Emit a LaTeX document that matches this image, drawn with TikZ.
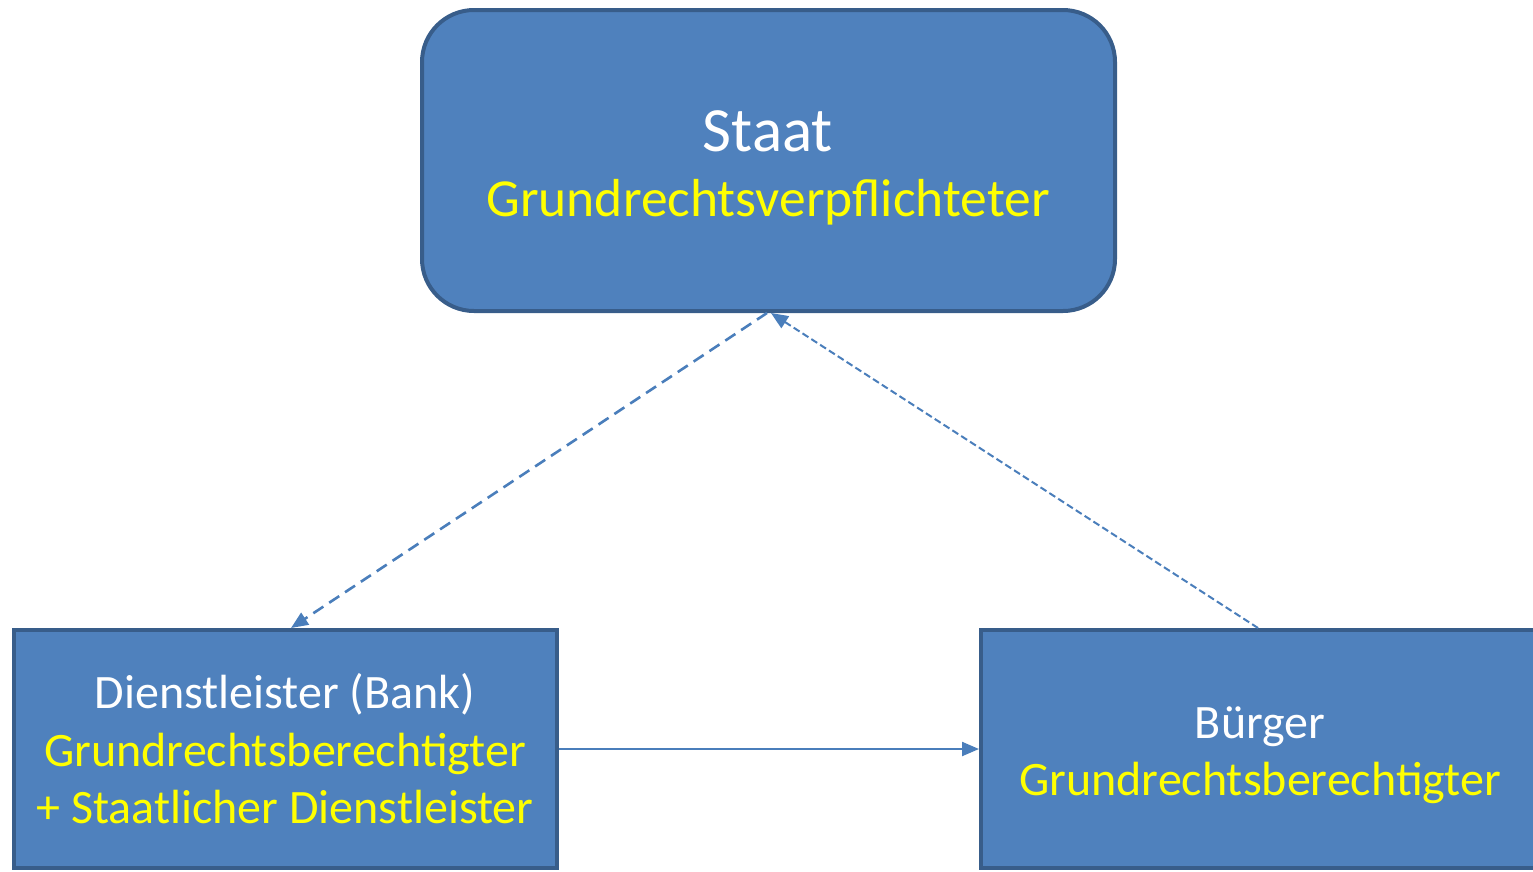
\documentclass[tikz,border=0pt]{standalone}
\usepackage{fontspec}
\setmainfont{Carlito}
\usetikzlibrary{arrows.meta}
\definecolor{boxfill}{HTML}{4F81BD}
\definecolor{boxline}{HTML}{385D8A}
\definecolor{conn}{HTML}{4A7EBB}
\definecolor{txtyellow}{HTML}{FFFF00}
\tikzset{
  box/.style={draw=boxline, fill=boxfill, line width=4pt, inner sep=0pt},
  wtxt/.style={text=white, anchor=base, inner sep=0pt},
  ytxt/.style={text=txtyellow, anchor=base, inner sep=0pt},
  tip/.style={-{Triangle[length=17pt,width=14pt]}},
  dashA/.style={conn, line width=2.6pt, dash pattern=on 12pt off 7pt},
  dashB/.style={conn, line width=2pt, dash pattern=on 7pt off 3.5pt},
  solidc/.style={conn, line width=2.2pt}
}
\begin{document}
\begin{tikzpicture}[x=1pt,y=-1pt]
\useasboundingbox (0,0) rectangle (1533,871);
\clip (0,0) rectangle (1533,871);
\node[box, rounded corners=52pt, minimum width=693pt, minimum height=301pt] (staat) at (768.5,160.5) {};
\node[box, minimum width=543pt, minimum height=238pt] (dl) at (285.5,749) {};
\node[box, minimum width=564pt, minimum height=238pt] (bg) at (1263,749) {};
\node[wtxt, font=\fontsize{63}{76}\selectfont] (t1) at (768,151) {Staat};
\node[ytxt, font=\fontsize{53.5}{64}\selectfont] (t2) at (768,216) {Grundrechtsverpflichteter};
\node[wtxt, font=\fontsize{48}{58}\selectfont] (d1) at (285,708) {Dienstleister (Bank)};
\node[ytxt, font=\fontsize{48}{58}\selectfont] (d2) at (285,766) {Grundrechtsberechtigter};
\node[ytxt, font=\fontsize{48}{58}\selectfont] (d3) at (285,823) {+ Staatlicher Dienstleister};
\node[wtxt, font=\fontsize{48}{58}\selectfont] (b1) at (1260,738) {Bürger};
\node[ytxt, font=\fontsize{48}{58}\selectfont] (b2) at (1260,795) {Grundrechtsberechtigter};
\coordinate (sL) at (767,313);
\coordinate (sR) at (771,313);
\coordinate (dlTop) at (291,628);
\coordinate (bgTop) at (1258,628);
\draw[dashA, tip] (sL) -- (dlTop);
\draw[dashB, tip] (bgTop) -- (sR);
\draw[solidc, tip] (dl.east) -- (bg.west);
\end{tikzpicture}
\end{document}
